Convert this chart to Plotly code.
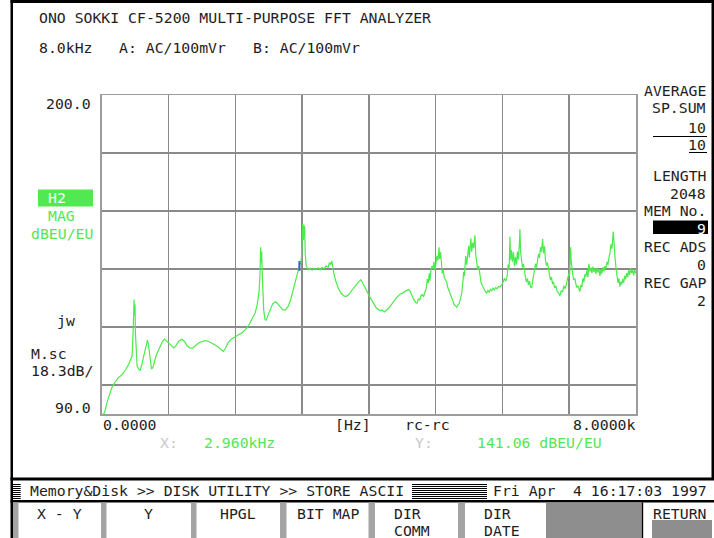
import plotly.graph_objects as go

# ---------------------------------------------------------------------------
# Measured transfer function H2 magnitude (dB EU/EU) vs frequency (Hz)
# ---------------------------------------------------------------------------
freq_hz = [
    20, 50, 80, 110, 150, 200, 250, 300, 350, 400, 430, 455, 470, 478, 485, 490,
    495, 500, 505, 515, 530, 555, 575, 600, 630, 660, 685, 700, 720, 745, 765,
    790, 820, 850, 880, 910, 940, 970, 1000,
    1040, 1080, 1110, 1150, 1200, 1240, 1280, 1320, 1360, 1400, 1450, 1500, 1550,
    1600, 1650, 1700, 1750, 1790, 1820, 1850, 1890, 1940, 2000,
    2050, 2100, 2150, 2200, 2250, 2300, 2330, 2355, 2370, 2380, 2388, 2395, 2402,
    2410, 2425, 2445, 2465, 2490, 2520, 2560, 2600, 2630, 2670, 2710, 2750, 2790,
    2830, 2870, 2910, 2940, 2960, 2980, 2995, 3005, 3012, 3020, 3028, 3038, 3048,
    3060, 3080, 3100,
    3120, 3150, 3180, 3210, 3240, 3270, 3300, 3330, 3360, 3390, 3410, 3430, 3445,
    3460, 3480, 3510, 3540, 3580, 3620, 3660, 3700, 3740, 3780, 3820, 3860, 3880,
    3900, 3930, 3960, 3990,
    4020, 4050, 4080, 4110, 4140, 4170, 4200, 4230, 4260, 4290, 4320, 4350, 4380,
    4410, 4440, 4470, 4500, 4530, 4560, 4590, 4615, 4640, 4670, 4700, 4720, 4745,
    4760, 4780, 4800, 4820, 4840, 4860, 4875, 4890, 4905, 4915, 4930, 4945, 4960,
    4975, 4990, 5005, 5020, 5035, 5050, 5060, 5075, 5090, 5100, 5115, 5130, 5150,
    5165, 5180, 5200, 5220, 5240, 5260, 5280, 5300, 5315, 5330, 5350, 5370, 5390,
    5410, 5420, 5430, 5440, 5450, 5465, 5480, 5495, 5505, 5515, 5528, 5540, 5555,
    5570, 5588, 5600, 5615, 5630, 5645, 5660, 5680, 5700, 5720, 5740, 5763, 5780,
    5800, 5820, 5840, 5860, 5880, 5900, 5920, 5940, 5960, 5988, 6010, 6030, 6050,
    6070, 6085, 6100, 6113, 6122, 6135, 6150, 6165, 6180, 6195, 6210, 6225, 6240,
    6255, 6262, 6272, 6285, 6300, 6315, 6330, 6345, 6360, 6375, 6390, 6405, 6420,
    6437, 6450, 6465, 6480, 6495, 6510, 6525, 6540, 6555, 6570, 6585, 6602, 6615,
    6630, 6645, 6660, 6675, 6690, 6705, 6720, 6735, 6750, 6765, 6780, 6800, 6820,
    6840, 6861, 6880, 6900, 6920, 6940, 6960, 6980, 6995, 7005, 7021, 7030, 7040,
    7055, 7070, 7085, 7100, 7115, 7130, 7145, 7160, 7175, 7190, 7205, 7220, 7235,
    7250, 7265, 7280, 7295, 7310, 7325, 7340, 7355, 7370, 7385, 7400, 7415, 7430,
    7445, 7460, 7475, 7490, 7505, 7520, 7535, 7550, 7565, 7580, 7595, 7610, 7625,
    7640, 7659, 7670, 7685, 7700, 7715, 7730, 7745, 7759, 7770, 7785, 7800, 7815,
    7830, 7845, 7860, 7875, 7890, 7905, 7920, 7935, 7950, 7965, 7980, 8000,
]
mag_db = [
    89.5, 91.0, 94.0, 96.5, 99.0, 101.0, 102.5, 103.5, 105.0, 107.0, 108.5, 110.0,
    118.0, 126.0, 129.5, 124.0, 128.0, 127.0, 118.0, 110.0, 106.5, 105.5, 105.0,
    107.0, 110.0, 113.0, 115.5, 114.0, 109.0, 105.5, 106.0, 108.5, 110.5, 112.0,
    113.5, 115.0, 115.8, 115.2, 114.5,
    113.5, 112.8, 113.5, 115.0, 115.8, 115.0, 113.5, 112.8, 112.7, 113.5, 114.5,
    115.0, 115.3, 115.0, 114.5, 113.8, 113.0, 112.0, 111.6, 112.5, 114.5, 115.8,
    116.5,
    117.3, 118.0, 119.0, 120.5, 122.5, 125.0, 128.0, 132.0, 138.0, 147.5, 142.0,
    146.0, 140.0, 133.0, 126.0, 122.5, 122.4, 124.0, 126.0, 128.0, 128.7, 128.2,
    127.0, 126.0, 125.8, 127.0, 129.5, 133.0, 137.0, 140.0, 141.06, 142.0, 145.0,
    152.0, 155.5, 150.0, 155.0, 154.5, 145.0, 141.5, 140.2, 139.8,
    140.3, 139.6, 140.2, 139.8, 140.4, 139.7, 140.5, 140.1, 141.0, 140.6, 142.2,
    141.5, 142.8, 140.5, 138.0, 135.5, 133.5, 131.8, 130.8, 130.5, 131.2, 132.5,
    133.8, 134.8, 135.8, 136.3, 135.5, 134.0, 132.5, 131.5,
    130.2, 128.8, 127.8, 126.6, 126.2, 125.6, 125.9, 125.2, 125.8, 126.3, 127.2,
    128.0, 129.0, 130.0, 130.8, 131.4, 131.6, 132.0, 132.6, 132.9, 132.5, 131.0,
    129.6, 128.4, 128.2, 129.8, 129.2, 130.8, 131.2, 130.5, 132.4, 133.5, 136.5,
    135.2, 138.5, 136.0, 139.8, 141.0, 140.2, 142.5, 139.5, 141.5, 144.5, 143.0,
    147.5, 143.5, 145.8, 141.0, 138.5, 139.8, 137.0, 136.2, 135.5, 133.8, 132.5,
    131.0, 130.0, 128.6, 127.6, 127.2, 126.8, 127.5, 128.0, 129.5, 131.5, 136.0,
    139.0, 137.5, 142.0, 144.5, 141.5, 145.5, 148.0, 144.0, 147.5, 150.6, 146.0,
    149.0, 147.2, 151.6, 145.0, 142.0, 139.8, 141.0, 137.5, 135.4, 134.2, 133.0,
    132.4, 131.6, 132.6, 132.0, 133.0, 132.5, 133.4, 132.8, 133.6, 133.2, 134.0,
    133.8, 134.5, 135.5, 136.8, 135.8, 137.5, 141.5, 139.8, 151.2, 143.0, 146.5,
    142.5, 145.8, 141.0, 144.2, 141.5, 146.0, 143.2, 149.0, 153.7, 146.0, 142.0,
    140.5, 141.8, 138.5, 137.2, 135.5, 136.8, 134.5, 135.8, 133.8, 133.6, 135.5,
    137.5, 139.2, 141.8, 140.5, 143.5, 145.2, 143.8, 147.5, 146.0, 150.3, 145.5,
    147.8, 143.0, 141.2, 142.2, 139.5, 138.0, 136.2, 137.2, 134.8, 135.6, 133.5,
    134.2, 132.2, 131.8, 130.8, 132.5, 132.0, 134.2, 133.2, 135.6, 136.8, 138.5,
    137.6, 147.5, 142.5, 139.5, 137.8, 136.2, 136.8, 134.8, 133.6, 134.2, 132.8,
    132.2, 134.5, 133.8, 136.8, 135.5, 138.2, 137.4, 139.5, 137.2, 141.8, 139.2,
    140.5, 138.6, 140.8, 139.0, 140.2, 138.3, 140.4, 138.8, 140.0, 137.6, 139.8,
    138.4, 140.6, 139.2, 141.0, 140.2, 142.5, 141.4, 144.0, 145.5, 148.5, 147.0,
    152.9, 147.5, 144.2, 140.5, 137.6, 135.2, 136.8, 133.9, 135.6, 134.6, 136.5,
    135.2, 137.6, 136.4, 138.6, 137.2, 139.5, 138.0, 140.2, 138.6, 139.8, 137.8,
    139.6, 138.5,
]

# Cursor read-out
cursor_hz = 2960
cursor_db = 141.06

# Axis scale settings
y_top_db, y_bottom_db = 200.0, 90.0
x_span_hz = 8000
y_grid_db = [100, 120, 140, 160, 180]
x_grid_hz = [1000, 2000, 3000, 4000, 5000, 6000, 7000]

# Screen text
title_text = "ONO SOKKI CF-5200 MULTI-PURPOSE FFT ANALYZER"
range_text = "8.0kHz"
ch_a_text = "A: AC/100mVr"
ch_b_text = "B: AC/100mVr"
status_path = "Memory&Disk >> DISK UTILITY >> STORE ASCII"
status_day = "Fri Apr"
status_time = "4 16:17:03 1997"
softkeys = [["X - Y"], ["Y"], ["HPGL"], ["BIT MAP"], ["DIR", "COMM"], ["DIR", "DATE"]]

W, H = 714, 538
FONT = "DejaVu Sans Mono"
FS = 14.8
CW = 8.9            # character pitch of the screen font
INK = "#1e1e1e"
GREEN = "#52e852"
TRACE = "#4aeb4a"
GRID = "#8a8a8a"

# Plot window in screen pixels
PX0, PX1, PY0, PY1 = 101.7, 636.0, 95.0, 414.0

fig = go.Figure()
fig.add_trace(go.Scatter(
    x=freq_hz, y=mag_db, mode="lines",
    line=dict(color=TRACE, width=1.2), hoverinfo="skip", showlegend=False,
))
fig.add_trace(go.Scatter(
    x=[cursor_hz], y=[cursor_db], mode="markers",
    marker=dict(symbol="line-ns", size=7, line=dict(color="#3a5cd8", width=2)),
    hoverinfo="skip", showlegend=False,
))

annotations = []
shapes = []


def px(x):
    return x / W


def py(y):
    return 1 - y / H


def text(s, x, y, anchor="left", color=INK, size=FS, bg=None):
    annotations.append(dict(
        text=s, x=px(x), y=py(y), xref="paper", yref="paper",
        xanchor=anchor, yanchor="middle", showarrow=False,
        font=dict(family=FONT, size=size, color=color),
        bgcolor=bg, borderpad=0, align=anchor if anchor != "center" else "center",
    ))


def rect(x0, y0, x1, y1, fill, line_color=None, line_width=0):
    shapes.append(dict(
        type="rect", xref="paper", yref="paper",
        x0=px(x0), x1=px(x1), y0=py(y1), y1=py(y0),
        fillcolor=fill, line=dict(width=line_width, color=line_color or fill),
        layer="above",
    ))


def hline(x0, x1, y, color="#000", width=1):
    shapes.append(dict(
        type="line", xref="paper", yref="paper",
        x0=px(x0), x1=px(x1), y0=py(y), y1=py(y),
        line=dict(color=color, width=width), layer="above",
    ))


# Header
text(title_text, 38, 17.5)
text(range_text, 38, 47.5)
text(ch_a_text, 38 + 9 * CW, 47.5)
text(ch_b_text, 38 + 24 * CW, 47.5)

# Left-hand scale column (7-character field)
LX = 29.5
text(f"{y_top_db:.1f}", 92, 104, anchor="right")
rect(38, 189.5, 93, 206.5, GREEN)
text("H2", LX + 2 * CW, 198, color="#ffffff")
text("MAG", LX + 2 * CW, 215.5, color=GREEN)
text("dBEU/EU", LX, 233, color=GREEN)
text("jw", LX + 3 * CW, 320)
text("M.sc", LX, 353)
text(f"{(y_top_db - y_bottom_db) / 6:.1f}dB/", LX, 370)
text(f"{y_bottom_db:.1f}", 92, 407, anchor="right")

# Right-hand status column
RX = 707
text("AVERAGE", RX, 91, anchor="right")
text("SP.SUM", RX, 108, anchor="right")
text("10", RX, 127, anchor="right")
hline(653, RX, 136.5, width=1.2)
text("10", RX, 145, anchor="right")
hline(689, RX, 152.5, width=1)
text("LENGTH", RX, 176, anchor="right")
text("2048", RX, 193, anchor="right")
text("MEM No.", RX, 210, anchor="right")
rect(653, 220.5, 708, 234, "#000000")
text("9", RX, 228, anchor="right", color="#ffffff")
text("REC ADS", RX, 246, anchor="right")
text("0", RX, 264, anchor="right")
text("REC GAP", RX, 282, anchor="right")
text("2", RX, 300, anchor="right")

# X axis labels and cursor read-out
text("0.0000", 102, 424)
text("[Hz]", 334, 424)
text("rc-rc", 404, 424)
text(f"{x_span_hz / 1000:.4f}k", 636, 424, anchor="right")
text("X:", 159, 442, color="#c8c8c8")
text(f"{cursor_hz / 1000:.3f}kHz", 203, 442, color=GREEN)
text("Y:", 414, 442, color="#c8c8c8")
text(f"{cursor_db:.2f} dBEU/EU", 476, 442, color=GREEN)

# Screen frame
rect(10.5, 0, 13, H, "#000000")
rect(10.5, 0, W, 3, "#000000")
rect(711.5, 0, W, 478, "#000000")

# Status bar
rect(10.5, 477.5, W, 480.5, "#000000")
rect(10.5, 500, W, 502.5, "#000000")
for k in range(8):
    yy = 484.5 + 2 * k
    hline(13, 20.7, yy, width=1)
    hline(412, 487, yy, width=1)
text(status_path, 29, 490.5)
text(status_day, 492, 490.5)
text(status_time, 492 + 9 * CW, 490.5)

# Soft-key row
sep = [(13, 18.5), (101, 106.5), (191, 196.5), (280, 286.5), (368.5, 375), (458, 465)]
for x0, x1 in sep:
    rect(x0, 502.5, x1, H, "#a4a4a4")
rect(546, 502.5, 641, H, "#8e8e8e")
rect(641.5, 502.5, 643.2, H, "#000000")
rect(652, 520, 712, H, "#8e8e8e")
key_cells = [(18.5, 101), (106.5, 191), (196.5, 280), (286.5, 368.5)]
for (x0, x1), label in zip(key_cells, softkeys[:4]):
    text(label[0], (x0 + x1) / 2, 513.5, anchor="center")
text(softkeys[4][0], 393, 513.5)
text(softkeys[4][1], 393, 530)
text(softkeys[5][0], 483, 513.5)
text(softkeys[5][1], 483, 530)
text("RETURN", 652, 513.5)

fig.update_layout(
    width=W, height=H,
    margin=dict(l=0, r=0, t=0, b=0),
    paper_bgcolor="#ffffff", plot_bgcolor="#ffffff",
    showlegend=False, hovermode=False,
    xaxis=dict(
        domain=[px(PX0), px(PX1)], range=[0, x_span_hz],
        tickvals=x_grid_hz, showticklabels=False, ticks="",
        showgrid=True, gridcolor=GRID, gridwidth=1.5, zeroline=False,
        showline=True, mirror=True, linecolor="#9c9c9c", linewidth=1.5,
        fixedrange=True,
    ),
    yaxis=dict(
        domain=[py(PY1), py(PY0)], range=[y_bottom_db, y_top_db],
        tickvals=y_grid_db, showticklabels=False, ticks="",
        showgrid=True, gridcolor=GRID, gridwidth=1.5, zeroline=False,
        showline=True, mirror=True, linecolor="#9c9c9c", linewidth=1.5,
        fixedrange=True,
    ),
    annotations=annotations,
    shapes=shapes,
)

fig.write_html("out.html", config={"displayModeBar": False, "staticPlot": True})
